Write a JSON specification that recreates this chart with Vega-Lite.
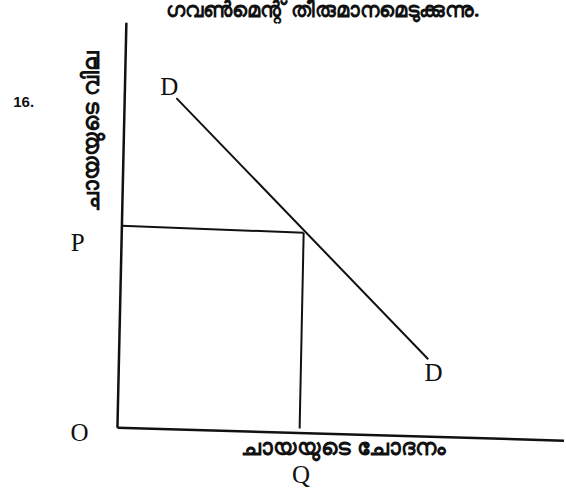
{
  "$schema": "https://vega.github.io/schema/vega-lite/v6.json",
  "width": 566,
  "height": 491,
  "autosize": {"type": "fit", "contains": "padding"},
  "padding": 0,
  "background": "white",
  "config": {"view": {"stroke": null}},
  "datasets": {
    "segments": [
      {"name": "y-axis", "x": 2.0, "y": 100.5, "x2": 0, "y2": 0, "w": 2.5},
      {"name": "x-axis", "x": 0, "y": 0, "x2": 100, "y2": -3.2, "w": 2.5},
      {"name": "P line", "x": 0.9, "y": 50.1, "x2": 41.7, "y2": 48.4, "w": 2},
      {"name": "Q line", "x": 41.7, "y": 48.4, "x2": 40.8, "y2": -0.2, "w": 2},
      {"name": "DD", "x": 13.2, "y": 81.8, "x2": 69.6, "y2": 17.0, "w": 2}
    ],
    "serifLabels": [
      {"t": "D", "x": 11.6, "y": 84.5},
      {"t": "D", "x": 70.8, "y": 13.5},
      {"t": "P", "x": -8.9, "y": 45.9},
      {"t": "O", "x": -8.5, "y": -1.2},
      {"t": "Q", "x": 41.1, "y": -11.7}
    ],
    "mlLabels": [
      {"t": "ചായയുടെ ചോദനം", "x": 50.7, "y": -5.0, "a": 0},
      {"t": "ചായയുടെ വില", "x": -5.6, "y": 73.5, "a": 270}
    ],
    "heading": [
      {"t": "ഗവൺമെന്റ്  തീരുമാനമെടുക്കുന്നു.", "x": 46.0, "y": 103.4}
    ],
    "number": [
      {"t": "16.", "x": -21, "y": 80.8}
    ]
  },
  "layer": [
    {
      "data": {"name": "segments"},
      "mark": {"type": "rule", "color": "#111"},
      "encoding": {
        "x": {"field": "x", "type": "quantitative", "scale": {"domain": [-26.3, 100], "nice": false, "zero": false}, "axis": null},
        "y": {"field": "y", "type": "quantitative", "scale": {"domain": [-15.7, 104.9], "nice": false, "zero": false}, "axis": null},
        "x2": {"field": "x2"},
        "y2": {"field": "y2"},
        "strokeWidth": {"field": "w", "type": "quantitative", "scale": null}
      }
    },
    {
      "data": {"name": "serifLabels"},
      "mark": {"type": "text", "font": "Liberation Serif", "fontSize": 25, "color": "#111", "align": "center", "baseline": "middle"},
      "encoding": {
        "x": {"field": "x", "type": "quantitative"},
        "y": {"field": "y", "type": "quantitative"},
        "text": {"field": "t"}
      }
    },
    {
      "data": {"name": "mlLabels"},
      "mark": {"type": "text", "font": "Noto Sans", "fontSize": 23, "fontWeight": "bold", "color": "#111", "align": "center", "baseline": "middle"},
      "encoding": {
        "x": {"field": "x", "type": "quantitative"},
        "y": {"field": "y", "type": "quantitative"},
        "angle": {"field": "a", "type": "quantitative", "scale": null},
        "text": {"field": "t"}
      }
    },
    {
      "data": {"name": "heading"},
      "mark": {"type": "text", "font": "Noto Sans", "fontSize": 21, "fontWeight": "bold", "color": "#111", "align": "center", "baseline": "middle"},
      "encoding": {
        "x": {"field": "x", "type": "quantitative"},
        "y": {"field": "y", "type": "quantitative"},
        "text": {"field": "t"}
      }
    },
    {
      "data": {"name": "number"},
      "mark": {"type": "text", "font": "Liberation Sans", "fontSize": 15, "fontWeight": "bold", "color": "#111", "align": "center", "baseline": "middle"},
      "encoding": {
        "x": {"field": "x", "type": "quantitative"},
        "y": {"field": "y", "type": "quantitative"},
        "text": {"field": "t"}
      }
    }
  ]
}
